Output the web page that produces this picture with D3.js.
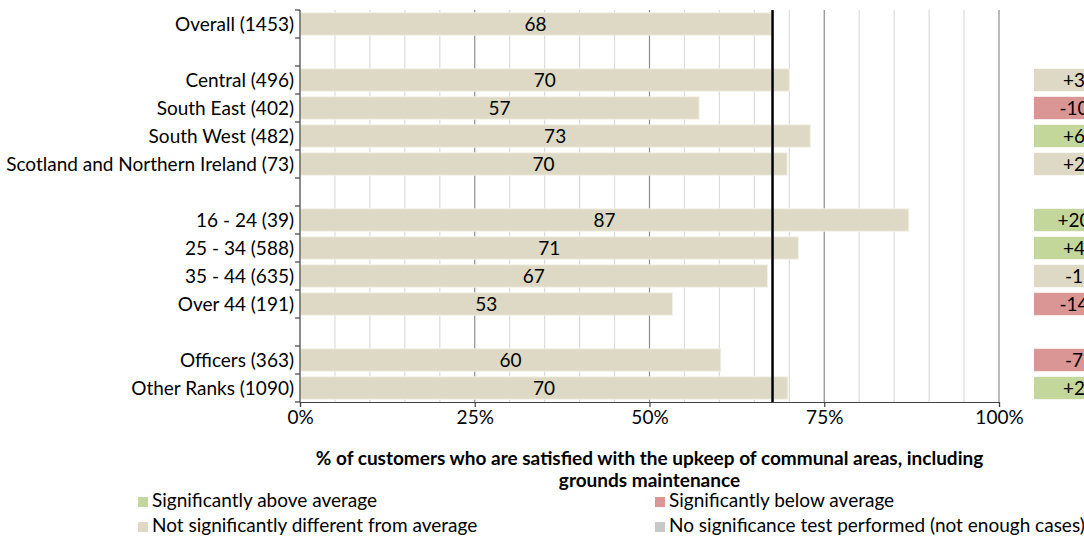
<!DOCTYPE html>
<html>
<head>
<meta charset="utf-8">
<script src="https://cdn.jsdelivr.net/npm/d3@7"></script>
<style>
  body { margin: 0; background: #fff; }
  svg { display: block; font-family: Lato, "Open Sans", sans-serif; }
  .lbl { font-size: 19px; fill: #000; }
</style>
</head>
<body>
<div id="chart"></div>
<script>
// rows, in order top to bottom; null marks an empty spacer row
const categories = [
  "Overall (1453)", null,
  "Central (496)", "South East (402)", "South West (482)", "Scotland and Northern Ireland (73)", null,
  "16 - 24 (39)", "25 - 34 (588)", "35 - 44 (635)", "Over 44 (191)", null,
  "Officers (363)", "Other Ranks (1090)"
];
const values = [67.4, null, 70.0, 57.1, 73.0, 69.7, null, 87.1, 71.3, 66.9, 53.3, null, 60.2, 69.8];
const valueLabels = ["68", null, "70", "57", "73", "70", null, "87", "71", "67", "53", null, "60", "70"];
const diffLabels = [null, null, "+3", "-10", "+6", "+2", null, "+20", "+4", "-1", "-14", null, "-7", "+2"];
const diffSig = [null, null, "none", "below", "above", "none", null, "above", "above", "none", "below", null, "below", "above"];
const averageValue = 67.6;
const xTicks = [0, 25, 50, 75, 100];
const axisTitle = ["% of customers who are satisfied with the upkeep of communal areas, including", "grounds maintenance"];
const legendItems = [
  { key: "above", label: "Significantly above average" },
  { key: "below", label: "Significantly below average" },
  { key: "none", label: "Not significantly different from average" },
  { key: "untested", label: "No significance test performed (not enough cases)" }
];

const colors = { above: "#c4d79b", below: "#da9694", none: "#ddd9c4", untested: "#c8c8c8" };

const width = 1084, height = 541;
const svg = d3.select("#chart").append("svg").attr("width", width).attr("height", height);

const rows = categories.map((c, i) => ({
  key: "r" + i, label: c, value: values[i], valueLabel: valueLabels[i],
  diff: diffLabels[i], sig: diffSig[i]
}));

const plotTop = 10, plotBottom = 402;
const x = d3.scaleLinear().domain([0, 100]).range([300, 999]);
const y = d3.scaleBand().domain(rows.map(d => d.key)).range([plotTop, plotBottom]).paddingInner(0.2).paddingOuter(0.1);
const step = y.step();

// gridlines
const gridVals = d3.range(5, 101, 5);
svg.append("g").selectAll("line").data(gridVals).join("line")
  .attr("x1", d => x(d)).attr("x2", d => x(d))
  .attr("y1", plotTop).attr("y2", plotBottom)
  .attr("stroke", d => d % 25 === 0 ? "#8c8c8c" : "#dcdcdc")
  .attr("stroke-width", 1.2);

// bars
const barRows = rows.filter(d => d.value != null);
svg.append("g").selectAll("rect").data(barRows).join("rect")
  .attr("x", x(0)).attr("y", d => y(d.key))
  .attr("width", d => x(d.value) - x(0)).attr("height", y.bandwidth())
  .attr("fill", colors.none).attr("stroke", "#f3f1e8").attr("stroke-width", 1);

svg.append("g").selectAll("text").data(barRows).join("text")
  .attr("class", "lbl")
  .attr("x", d => (x(0) + x(d.value)) / 2)
  .attr("y", d => y(d.key) + y.bandwidth() / 2)
  .attr("dy", "0.36em").attr("text-anchor", "middle")
  .text(d => d.valueLabel);

// average line
svg.append("line")
  .attr("x1", x(averageValue)).attr("x2", x(averageValue))
  .attr("y1", plotTop).attr("y2", plotBottom)
  .attr("stroke", "#000").attr("stroke-width", 2.5);

// left axis with ticks at category boundaries
const axisG = svg.append("g");
axisG.append("line").attr("x1", x(0)).attr("x2", x(0)).attr("y1", plotTop).attr("y2", plotBottom)
  .attr("stroke", "#404040").attr("stroke-width", 1.2);
axisG.selectAll(".tk").data(d3.range(rows.length + 1)).join("line").attr("class", "tk")
  .attr("x1", x(0) - 5).attr("x2", x(0))
  .attr("y1", i => plotTop + i * step).attr("y2", i => plotTop + i * step)
  .attr("stroke", "#404040").attr("stroke-width", 1.2);
axisG.selectAll("text").data(barRows).join("text")
  .attr("class", "lbl")
  .attr("x", x(0) - 6)
  .attr("y", d => y(d.key) + y.bandwidth() / 2)
  .attr("dy", "0.36em").attr("text-anchor", "end")
  .text(d => d.label);

// bottom axis
const xAxis = svg.append("g").attr("transform", `translate(0,${plotBottom})`)
  .call(d3.axisBottom(x).tickValues(xTicks).tickSize(5).tickFormat(d => d + "%"));
xAxis.attr("font-family", null).attr("font-size", null);
xAxis.select(".domain").attr("stroke", "#404040").attr("stroke-width", 1.2);
xAxis.selectAll(".tick line").attr("stroke", "#404040").attr("stroke-width", 1.2);
xAxis.selectAll(".tick text").attr("class", "lbl").attr("y", 8).attr("dy", "0.75em");

// difference boxes at right (cut off by the page edge, as in the source)
const diffRows = rows.filter(d => d.diff != null);
svg.append("g").selectAll("rect").data(diffRows).join("rect")
  .attr("x", 1034).attr("y", d => y(d.key))
  .attr("width", 80).attr("height", y.bandwidth())
  .attr("fill", d => colors[d.sig]);
svg.append("g").selectAll("text").data(diffRows).join("text")
  .attr("class", "lbl")
  .attr("x", 1074).attr("y", d => y(d.key) + y.bandwidth() / 2)
  .attr("dy", "0.36em").attr("text-anchor", "middle")
  .text(d => d.diff);

// axis title
svg.append("g").selectAll("text").data(axisTitle).join("text")
  .attr("class", "lbl").attr("font-weight", "bold")
  .attr("x", (x(0) + x(100)) / 2).attr("y", (d, i) => 465 + i * 22)
  .attr("text-anchor", "middle")
  .text(d => d);

// legend
const legendPos = [[138, 507], [655, 507], [138, 532], [655, 532]];
const lg = svg.append("g").selectAll("g").data(legendItems).join("g")
  .attr("transform", (d, i) => `translate(${legendPos[i][0]},${legendPos[i][1]})`);
lg.append("rect").attr("x", 0).attr("y", -10).attr("width", 10).attr("height", 10)
  .attr("fill", d => colors[d.key]);
lg.append("text").attr("class", "lbl").attr("x", 14).attr("y", 0).text(d => d.label);
</script>
</body>
</html>
